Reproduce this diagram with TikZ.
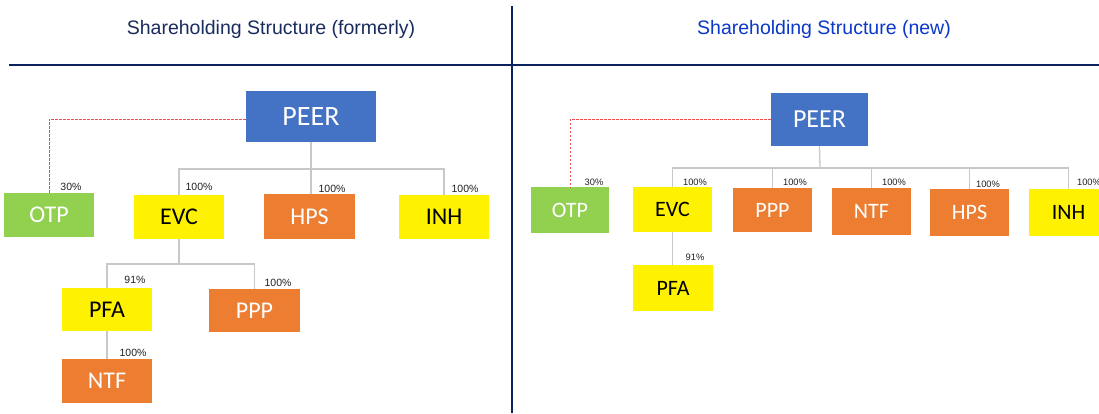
\documentclass[tikz,border=0pt]{standalone}
\usepackage{fontspec}
\setmainfont{Liberation Sans}
\newfontfamily\boxfont{Carlito}
\begin{document}
\begin{tikzpicture}[x=1pt,y=-1pt,
  box/.style={inner sep=0pt, anchor=center, font=\boxfont\fontsize{#1}{#1}\selectfont},
  bigL/.style={box=24},
  bigR/.style={box=22},
  blue/.style={fill=peerblue, text=white},
  green/.style={fill=otpgreen, text=white},
  yel/.style={fill=yellow, text=black},
  ora/.style={fill=orangeb, text=white},
  tree/.style={draw=treegray, line width=1.3pt},
  reddash/.style={draw=redd, line width=0.9pt, dash pattern=on 2.5pt off 1.5pt},
  pctL/.style={font=\fontsize{10.5}{10.5}\selectfont, text=pctc, inner sep=0pt},
  pctR/.style={font=\fontsize{9.3}{9.3}\selectfont, text=pctc, inner sep=0pt},
  sep/.style={draw=navy, line width=2.6pt}
]
\definecolor{peerblue}{HTML}{4472C4}
\definecolor{otpgreen}{HTML}{92D050}
\definecolor{orangeb}{HTML}{ED7D31}
\definecolor{treegray}{HTML}{C8C8C8}
\definecolor{redd}{HTML}{F04A4A}
\definecolor{pctc}{HTML}{222222}
\definecolor{navy}{HTML}{0B2260}
\definecolor{titleL}{HTML}{1A2C5E}
\definecolor{titleR}{HTML}{0A38C8}
\clip (0,0) rectangle (1099,413);
\fill[white] (0,0) rectangle (1099,413);

% titles and separators
\node[font=\fontsize{19.5}{19.5}\selectfont, text=titleL] (tL) at (271,29) {Shareholding Structure (formerly)};
\node[font=\fontsize{19.5}{19.5}\selectfont, text=titleR] (tR) at (824,29) {Shareholding Structure (new)};
\coordinate (hA) at (9,65);
\coordinate (hB) at (1099,65);
\coordinate (vA) at (512,6);
\coordinate (vB) at (512,413);
\draw[sep] (hA) -- (hB);
\draw[sep] (vA) -- (vB);

% ---------- left ----------
\node[box=28, blue, minimum width=130pt, minimum height=51pt] (peerL) at (311,116.5) {PEER};
\node[bigL, green, minimum width=90pt, minimum height=44pt] (otpL) at (49,215) {OTP};
\node[bigL, yel, minimum width=90pt, minimum height=44pt] (evcL) at (179,217) {EVC};
\node[bigL, ora, minimum width=91pt, minimum height=45pt] (hpsL) at (309.5,216.5) {HPS};
\node[bigL, yel, minimum width=90pt, minimum height=44pt] (inhL) at (444,217) {INH};
\node[bigL, yel, minimum width=90pt, minimum height=43pt] (pfaL) at (107,309.5) {PFA};
\node[bigL, ora, minimum width=91pt, minimum height=43pt] (pppL) at (254.5,310.5) {PPP};
\node[bigL, ora, minimum width=90pt, minimum height=44pt] (ntfL) at (107,381) {NTF};

\coordinate (barL) at (311,169);
\coordinate (barL2) at (179,264);
\draw[tree] (peerL.south) -- (barL);
\draw[tree] (barL) -| (evcL.north);
\draw[tree] (barL) -- (hpsL.north -| barL);
\draw[tree] (barL) -| (inhL.north);
\draw[tree] (evcL.south) -- (barL2);
\draw[tree] (barL2) -| (pfaL.north);
\draw[tree] (barL2) -| (pppL.north);
\draw[tree] (pfaL.south) -- (ntfL.north);
\draw[reddash] (peerL.west |- 0,119) -| (otpL.north);

\node[pctL] (pL1) at (71,187) {30\%};
\node[pctL] (pL2) at (199,187) {100\%};
\node[pctL] (pL3) at (332,189) {100\%};
\node[pctL] (pL4) at (465,189) {100\%};
\node[pctL] (pL5) at (135,280) {91\%};
\node[pctL] (pL6) at (278,283) {100\%};
\node[pctL] (pL7) at (133,353) {100\%};

% ---------- right ----------
\node[box=26, blue, minimum width=97pt, minimum height=53pt] (peerR) at (819.5,119.5) {PEER};
\node[bigR, green, minimum width=78pt, minimum height=46pt] (otpR) at (570,210) {OTP};
\node[bigR, yel, minimum width=79pt, minimum height=45pt] (evcR) at (672.5,209.5) {EVC};
\node[bigR, ora, minimum width=79pt, minimum height=44pt] (pppR) at (772.5,210) {PPP};
\node[bigR, ora, minimum width=79pt, minimum height=47pt] (ntfR) at (871.5,211.5) {NTF};
\node[bigR, ora, minimum width=79pt, minimum height=47pt] (hpsR) at (969.5,212.5) {HPS};
\node[bigR, yel, minimum width=79pt, minimum height=47pt] (inhR) at (1068.5,212.5) {INH};
\node[bigR, yel, minimum width=80pt, minimum height=46pt] (pfaR) at (673,288) {PFA};

\coordinate (barR) at (820,168);
\draw[tree] (peerR.south) -- (barR);
\draw[tree] (barR) -| (evcR.north);
\draw[tree] (barR) -| (pppR.north);
\draw[tree] (barR) -| (ntfR.north);
\draw[tree] (barR) -| (hpsR.north);
\draw[tree] (barR) -| (inhR.north);
\draw[tree] (evcR.south) -- (pfaR.north -| evcR.south);
\draw[reddash] (peerR.west) -| (otpR.north);

\node[pctR] (pR1) at (594,182) {30\%};
\node[pctR] (pR2) at (695,182) {100\%};
\node[pctR] (pR3) at (795,182) {100\%};
\node[pctR] (pR4) at (894,182) {100\%};
\node[pctR] (pR5) at (988,184) {100\%};
\node[pctR] (pR6) at (1089,182) {100\%};
\node[pctR] (pR7) at (695,257) {91\%};
\end{tikzpicture}
\end{document}
